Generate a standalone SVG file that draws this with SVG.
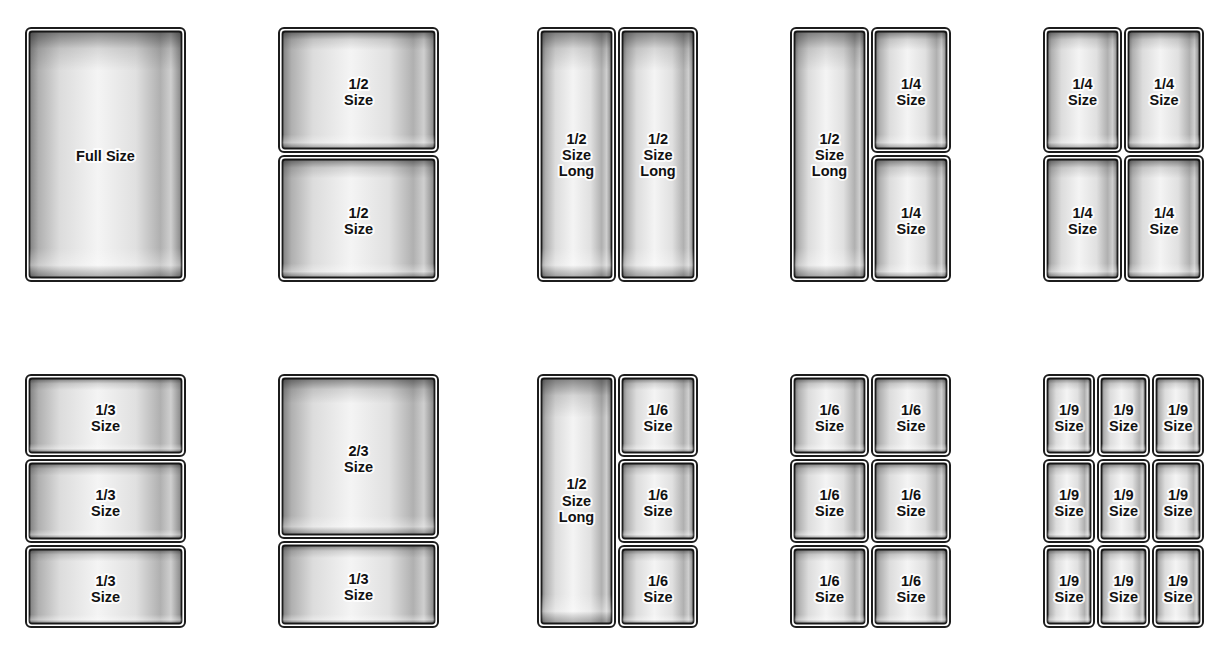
<svg xmlns="http://www.w3.org/2000/svg" width="1206" height="651" viewBox="0 0 1206 651">
<defs>
<linearGradient id="hg" x1="0" y1="0" x2="1" y2="0">
<stop offset="0" stop-color="#808080"/>
<stop offset="0.06" stop-color="#b0b0b0"/>
<stop offset="0.2" stop-color="#dcdcdc"/>
<stop offset="0.45" stop-color="#f4f4f4"/>
<stop offset="0.7" stop-color="#e0e0e0"/>
<stop offset="0.86" stop-color="#b0b0b0"/>
<stop offset="0.93" stop-color="#cfcfcf"/>
<stop offset="1" stop-color="#858585"/>
</linearGradient>
<linearGradient id="vg" x1="0" y1="0" x2="0" y2="1">
<stop offset="0" stop-color="#000" stop-opacity="0.45"/>
<stop offset="0.07" stop-color="#000" stop-opacity="0.12"/>
<stop offset="0.16" stop-color="#000" stop-opacity="0"/>
<stop offset="0.88" stop-color="#fff" stop-opacity="0"/>
<stop offset="0.95" stop-color="#fff" stop-opacity="0.35"/>
<stop offset="1" stop-color="#000" stop-opacity="0.3"/>
</linearGradient>
</defs>
<style>
.o{fill:#fff;stroke:#1c1c1c;stroke-width:2}
.i{fill:url(#hg);stroke:#1c1c1c;stroke-width:1.8}
.s{fill:url(#vg);stroke:none}
.t{font-family:"Liberation Sans",Arial,sans-serif;font-weight:bold;font-size:14.5px;fill:#111;text-anchor:middle;stroke:#fff;stroke-opacity:0.85;stroke-width:4;stroke-linejoin:round;paint-order:stroke}
</style>
<rect width="1206" height="651" fill="#fff"/>

<!-- Layout 1: Full -->
<g id="full" transform="translate(25,27)"><rect class="o" x="1" y="1" width="159" height="253" rx="5"/><rect class="i" x="4.5" y="4.5" width="152" height="246" rx="2.5"/><rect class="s" x="4.5" y="4.5" width="152" height="246" rx="2.5"/><text class="t" x="80.5" y="133.5">Full Size</text></g>

<!-- Layout 2: 1/2 x2 -->
<g id="half-a" transform="translate(278,27)"><rect class="o" x="1" y="1" width="159" height="124" rx="5"/><rect class="i" x="4.5" y="4.5" width="152" height="117" rx="2.5"/><rect class="s" x="4.5" y="4.5" width="152" height="117" rx="2.5"/><text class="t" x="80.5" y="62">1/2<tspan x="80.5" dy="16">Size</tspan></text></g>
<g id="half-b" transform="translate(278,155)"><rect class="o" x="1" y="1" width="159" height="125" rx="5"/><rect class="i" x="4.5" y="4.5" width="152" height="118" rx="2.5"/><rect class="s" x="4.5" y="4.5" width="152" height="118" rx="2.5"/><text class="t" x="80.5" y="62.5">1/2<tspan x="80.5" dy="16">Size</tspan></text></g>

<!-- Layout 3: 1/2 long x2 -->
<g id="long-a" transform="translate(537,27)"><rect class="o" x="1" y="1" width="77" height="253" rx="5"/><rect class="i" x="4.5" y="4.5" width="70" height="246" rx="2.5"/><rect class="s" x="4.5" y="4.5" width="70" height="246" rx="2.5"/><text class="t" x="39.5" y="116.5">1/2<tspan x="39.5" dy="16">Size</tspan><tspan x="39.5" dy="16">Long</tspan></text></g>
<g id="long-b" transform="translate(618,27)"><rect class="o" x="1" y="1" width="78" height="253" rx="5"/><rect class="i" x="4.5" y="4.5" width="71" height="246" rx="2.5"/><rect class="s" x="4.5" y="4.5" width="71" height="246" rx="2.5"/><text class="t" x="40" y="116.5">1/2<tspan x="40" dy="16">Size</tspan><tspan x="40" dy="16">Long</tspan></text></g>

<!-- Layout 4: 1/2 long + 1/4 x2 -->
<g id="l4-long" transform="translate(790,27)"><rect class="o" x="1" y="1" width="77" height="253" rx="5"/><rect class="i" x="4.5" y="4.5" width="70" height="246" rx="2.5"/><rect class="s" x="4.5" y="4.5" width="70" height="246" rx="2.5"/><text class="t" x="39.5" y="116.5">1/2<tspan x="39.5" dy="16">Size</tspan><tspan x="39.5" dy="16">Long</tspan></text></g>
<g id="l4-q1" transform="translate(871,27)"><rect class="o" x="1" y="1" width="78" height="124" rx="5"/><rect class="i" x="4.5" y="4.5" width="71" height="117" rx="2.5"/><rect class="s" x="4.5" y="4.5" width="71" height="117" rx="2.5"/><text class="t" x="40" y="62">1/4<tspan x="40" dy="16">Size</tspan></text></g>
<g id="l4-q2" transform="translate(871,155)"><rect class="o" x="1" y="1" width="78" height="125" rx="5"/><rect class="i" x="4.5" y="4.5" width="71" height="118" rx="2.5"/><rect class="s" x="4.5" y="4.5" width="71" height="118" rx="2.5"/><text class="t" x="40" y="62.5">1/4<tspan x="40" dy="16">Size</tspan></text></g>

<!-- Layout 5: 1/4 x4 -->
<g id="l5-q1" transform="translate(1043,27)"><rect class="o" x="1" y="1" width="77" height="124" rx="5"/><rect class="i" x="4.5" y="4.5" width="70" height="117" rx="2.5"/><rect class="s" x="4.5" y="4.5" width="70" height="117" rx="2.5"/><text class="t" x="39.5" y="62">1/4<tspan x="39.5" dy="16">Size</tspan></text></g>
<g id="l5-q2" transform="translate(1124,27)"><rect class="o" x="1" y="1" width="78" height="124" rx="5"/><rect class="i" x="4.5" y="4.5" width="71" height="117" rx="2.5"/><rect class="s" x="4.5" y="4.5" width="71" height="117" rx="2.5"/><text class="t" x="40" y="62">1/4<tspan x="40" dy="16">Size</tspan></text></g>
<g id="l5-q3" transform="translate(1043,155)"><rect class="o" x="1" y="1" width="77" height="125" rx="5"/><rect class="i" x="4.5" y="4.5" width="70" height="118" rx="2.5"/><rect class="s" x="4.5" y="4.5" width="70" height="118" rx="2.5"/><text class="t" x="39.5" y="62.5">1/4<tspan x="39.5" dy="16">Size</tspan></text></g>
<g id="l5-q4" transform="translate(1124,155)"><rect class="o" x="1" y="1" width="78" height="125" rx="5"/><rect class="i" x="4.5" y="4.5" width="71" height="118" rx="2.5"/><rect class="s" x="4.5" y="4.5" width="71" height="118" rx="2.5"/><text class="t" x="40" y="62.5">1/4<tspan x="40" dy="16">Size</tspan></text></g>

<!-- Layout 6: 1/3 x3 -->
<g id="l6-t1" transform="translate(25,374)"><rect class="o" x="1" y="1" width="159" height="81" rx="5"/><rect class="i" x="4.5" y="4.5" width="152" height="74" rx="2.5"/><rect class="s" x="4.5" y="4.5" width="152" height="74" rx="2.5"/><text class="t" x="80.5" y="40.5">1/3<tspan x="80.5" dy="16">Size</tspan></text></g>
<g id="l6-t2" transform="translate(25,459)"><rect class="o" x="1" y="1" width="159" height="82" rx="5"/><rect class="i" x="4.5" y="4.5" width="152" height="75" rx="2.5"/><rect class="s" x="4.5" y="4.5" width="152" height="75" rx="2.5"/><text class="t" x="80.5" y="41">1/3<tspan x="80.5" dy="16">Size</tspan></text></g>
<g id="l6-t3" transform="translate(25,545)"><rect class="o" x="1" y="1" width="159" height="81" rx="5"/><rect class="i" x="4.5" y="4.5" width="152" height="74" rx="2.5"/><rect class="s" x="4.5" y="4.5" width="152" height="74" rx="2.5"/><text class="t" x="80.5" y="40.5">1/3<tspan x="80.5" dy="16">Size</tspan></text></g>

<!-- Layout 7: 2/3 + 1/3 -->
<g id="l7-23" transform="translate(278,374)"><rect class="o" x="1" y="1" width="159" height="163" rx="5"/><rect class="i" x="4.5" y="4.5" width="152" height="156" rx="2.5"/><rect class="s" x="4.5" y="4.5" width="152" height="156" rx="2.5"/><text class="t" x="80.5" y="82">2/3<tspan x="80.5" dy="16">Size</tspan></text></g>
<g id="l7-13" transform="translate(278,541)"><rect class="o" x="1" y="1" width="159" height="85" rx="5"/><rect class="i" x="4.5" y="4.5" width="152" height="78" rx="2.5"/><rect class="s" x="4.5" y="4.5" width="152" height="78" rx="2.5"/><text class="t" x="80.5" y="42.5">1/3<tspan x="80.5" dy="16">Size</tspan></text></g>

<!-- Layout 8: 1/2 long + 1/6 x3 -->
<g id="l8-long" transform="translate(537,374)"><rect class="o" x="1" y="1" width="77" height="252" rx="5"/><rect class="i" x="4.5" y="4.5" width="70" height="245" rx="2.5"/><rect class="s" x="4.5" y="4.5" width="70" height="245" rx="2.5"/><text class="t" x="39.5" y="115">1/2<tspan x="39.5" dy="16.5">Size</tspan><tspan x="39.5" dy="16.5">Long</tspan></text></g>
<g id="l8-s1" transform="translate(618,374)"><rect class="o" x="1" y="1" width="78" height="81" rx="5"/><rect class="i" x="4.5" y="4.5" width="71" height="74" rx="2.5"/><rect class="s" x="4.5" y="4.5" width="71" height="74" rx="2.5"/><text class="t" x="40" y="40.5">1/6<tspan x="40" dy="16">Size</tspan></text></g>
<g id="l8-s2" transform="translate(618,459)"><rect class="o" x="1" y="1" width="78" height="82" rx="5"/><rect class="i" x="4.5" y="4.5" width="71" height="75" rx="2.5"/><rect class="s" x="4.5" y="4.5" width="71" height="75" rx="2.5"/><text class="t" x="40" y="41">1/6<tspan x="40" dy="16">Size</tspan></text></g>
<g id="l8-s3" transform="translate(618,545)"><rect class="o" x="1" y="1" width="78" height="81" rx="5"/><rect class="i" x="4.5" y="4.5" width="71" height="74" rx="2.5"/><rect class="s" x="4.5" y="4.5" width="71" height="74" rx="2.5"/><text class="t" x="40" y="40.5">1/6<tspan x="40" dy="16">Size</tspan></text></g>

<!-- Layout 9: 1/6 x6 -->
<g id="l9-1" transform="translate(790,374)"><rect class="o" x="1" y="1" width="77" height="81" rx="5"/><rect class="i" x="4.5" y="4.5" width="70" height="74" rx="2.5"/><rect class="s" x="4.5" y="4.5" width="70" height="74" rx="2.5"/><text class="t" x="39.5" y="40.5">1/6<tspan x="39.5" dy="16">Size</tspan></text></g>
<g id="l9-2" transform="translate(871,374)"><rect class="o" x="1" y="1" width="78" height="81" rx="5"/><rect class="i" x="4.5" y="4.5" width="71" height="74" rx="2.5"/><rect class="s" x="4.5" y="4.5" width="71" height="74" rx="2.5"/><text class="t" x="40" y="40.5">1/6<tspan x="40" dy="16">Size</tspan></text></g>
<g id="l9-3" transform="translate(790,459)"><rect class="o" x="1" y="1" width="77" height="82" rx="5"/><rect class="i" x="4.5" y="4.5" width="70" height="75" rx="2.5"/><rect class="s" x="4.5" y="4.5" width="70" height="75" rx="2.5"/><text class="t" x="39.5" y="41">1/6<tspan x="39.5" dy="16">Size</tspan></text></g>
<g id="l9-4" transform="translate(871,459)"><rect class="o" x="1" y="1" width="78" height="82" rx="5"/><rect class="i" x="4.5" y="4.5" width="71" height="75" rx="2.5"/><rect class="s" x="4.5" y="4.5" width="71" height="75" rx="2.5"/><text class="t" x="40" y="41">1/6<tspan x="40" dy="16">Size</tspan></text></g>
<g id="l9-5" transform="translate(790,545)"><rect class="o" x="1" y="1" width="77" height="81" rx="5"/><rect class="i" x="4.5" y="4.5" width="70" height="74" rx="2.5"/><rect class="s" x="4.5" y="4.5" width="70" height="74" rx="2.5"/><text class="t" x="39.5" y="40.5">1/6<tspan x="39.5" dy="16">Size</tspan></text></g>
<g id="l9-6" transform="translate(871,545)"><rect class="o" x="1" y="1" width="78" height="81" rx="5"/><rect class="i" x="4.5" y="4.5" width="71" height="74" rx="2.5"/><rect class="s" x="4.5" y="4.5" width="71" height="74" rx="2.5"/><text class="t" x="40" y="40.5">1/6<tspan x="40" dy="16">Size</tspan></text></g>

<!-- Layout 10: 1/9 x9 -->
<g id="l10-1" transform="translate(1043,374)"><rect class="o" x="1" y="1" width="50" height="81" rx="5"/><rect class="i" x="4.5" y="4.5" width="43" height="74" rx="2.5"/><rect class="s" x="4.5" y="4.5" width="43" height="74" rx="2.5"/><text class="t" x="26" y="40.5">1/9<tspan x="26" dy="16">Size</tspan></text></g>
<g id="l10-2" transform="translate(1097,374)"><rect class="o" x="1" y="1" width="51" height="81" rx="5"/><rect class="i" x="4.5" y="4.5" width="44" height="74" rx="2.5"/><rect class="s" x="4.5" y="4.5" width="44" height="74" rx="2.5"/><text class="t" x="26.5" y="40.5">1/9<tspan x="26.5" dy="16">Size</tspan></text></g>
<g id="l10-3" transform="translate(1152,374)"><rect class="o" x="1" y="1" width="50" height="81" rx="5"/><rect class="i" x="4.5" y="4.5" width="43" height="74" rx="2.5"/><rect class="s" x="4.5" y="4.5" width="43" height="74" rx="2.5"/><text class="t" x="26" y="40.5">1/9<tspan x="26" dy="16">Size</tspan></text></g>
<g id="l10-4" transform="translate(1043,459)"><rect class="o" x="1" y="1" width="50" height="82" rx="5"/><rect class="i" x="4.5" y="4.5" width="43" height="75" rx="2.5"/><rect class="s" x="4.5" y="4.5" width="43" height="75" rx="2.5"/><text class="t" x="26" y="41">1/9<tspan x="26" dy="16">Size</tspan></text></g>
<g id="l10-5" transform="translate(1097,459)"><rect class="o" x="1" y="1" width="51" height="82" rx="5"/><rect class="i" x="4.5" y="4.5" width="44" height="75" rx="2.5"/><rect class="s" x="4.5" y="4.5" width="44" height="75" rx="2.5"/><text class="t" x="26.5" y="41">1/9<tspan x="26.5" dy="16">Size</tspan></text></g>
<g id="l10-6" transform="translate(1152,459)"><rect class="o" x="1" y="1" width="50" height="82" rx="5"/><rect class="i" x="4.5" y="4.5" width="43" height="75" rx="2.5"/><rect class="s" x="4.5" y="4.5" width="43" height="75" rx="2.5"/><text class="t" x="26" y="41">1/9<tspan x="26" dy="16">Size</tspan></text></g>
<g id="l10-7" transform="translate(1043,545)"><rect class="o" x="1" y="1" width="50" height="81" rx="5"/><rect class="i" x="4.5" y="4.5" width="43" height="74" rx="2.5"/><rect class="s" x="4.5" y="4.5" width="43" height="74" rx="2.5"/><text class="t" x="26" y="40.5">1/9<tspan x="26" dy="16">Size</tspan></text></g>
<g id="l10-8" transform="translate(1097,545)"><rect class="o" x="1" y="1" width="51" height="81" rx="5"/><rect class="i" x="4.5" y="4.5" width="44" height="74" rx="2.5"/><rect class="s" x="4.5" y="4.5" width="44" height="74" rx="2.5"/><text class="t" x="26.5" y="40.5">1/9<tspan x="26.5" dy="16">Size</tspan></text></g>
<g id="l10-9" transform="translate(1152,545)"><rect class="o" x="1" y="1" width="50" height="81" rx="5"/><rect class="i" x="4.5" y="4.5" width="43" height="74" rx="2.5"/><rect class="s" x="4.5" y="4.5" width="43" height="74" rx="2.5"/><text class="t" x="26" y="40.5">1/9<tspan x="26" dy="16">Size</tspan></text></g>
</svg>
